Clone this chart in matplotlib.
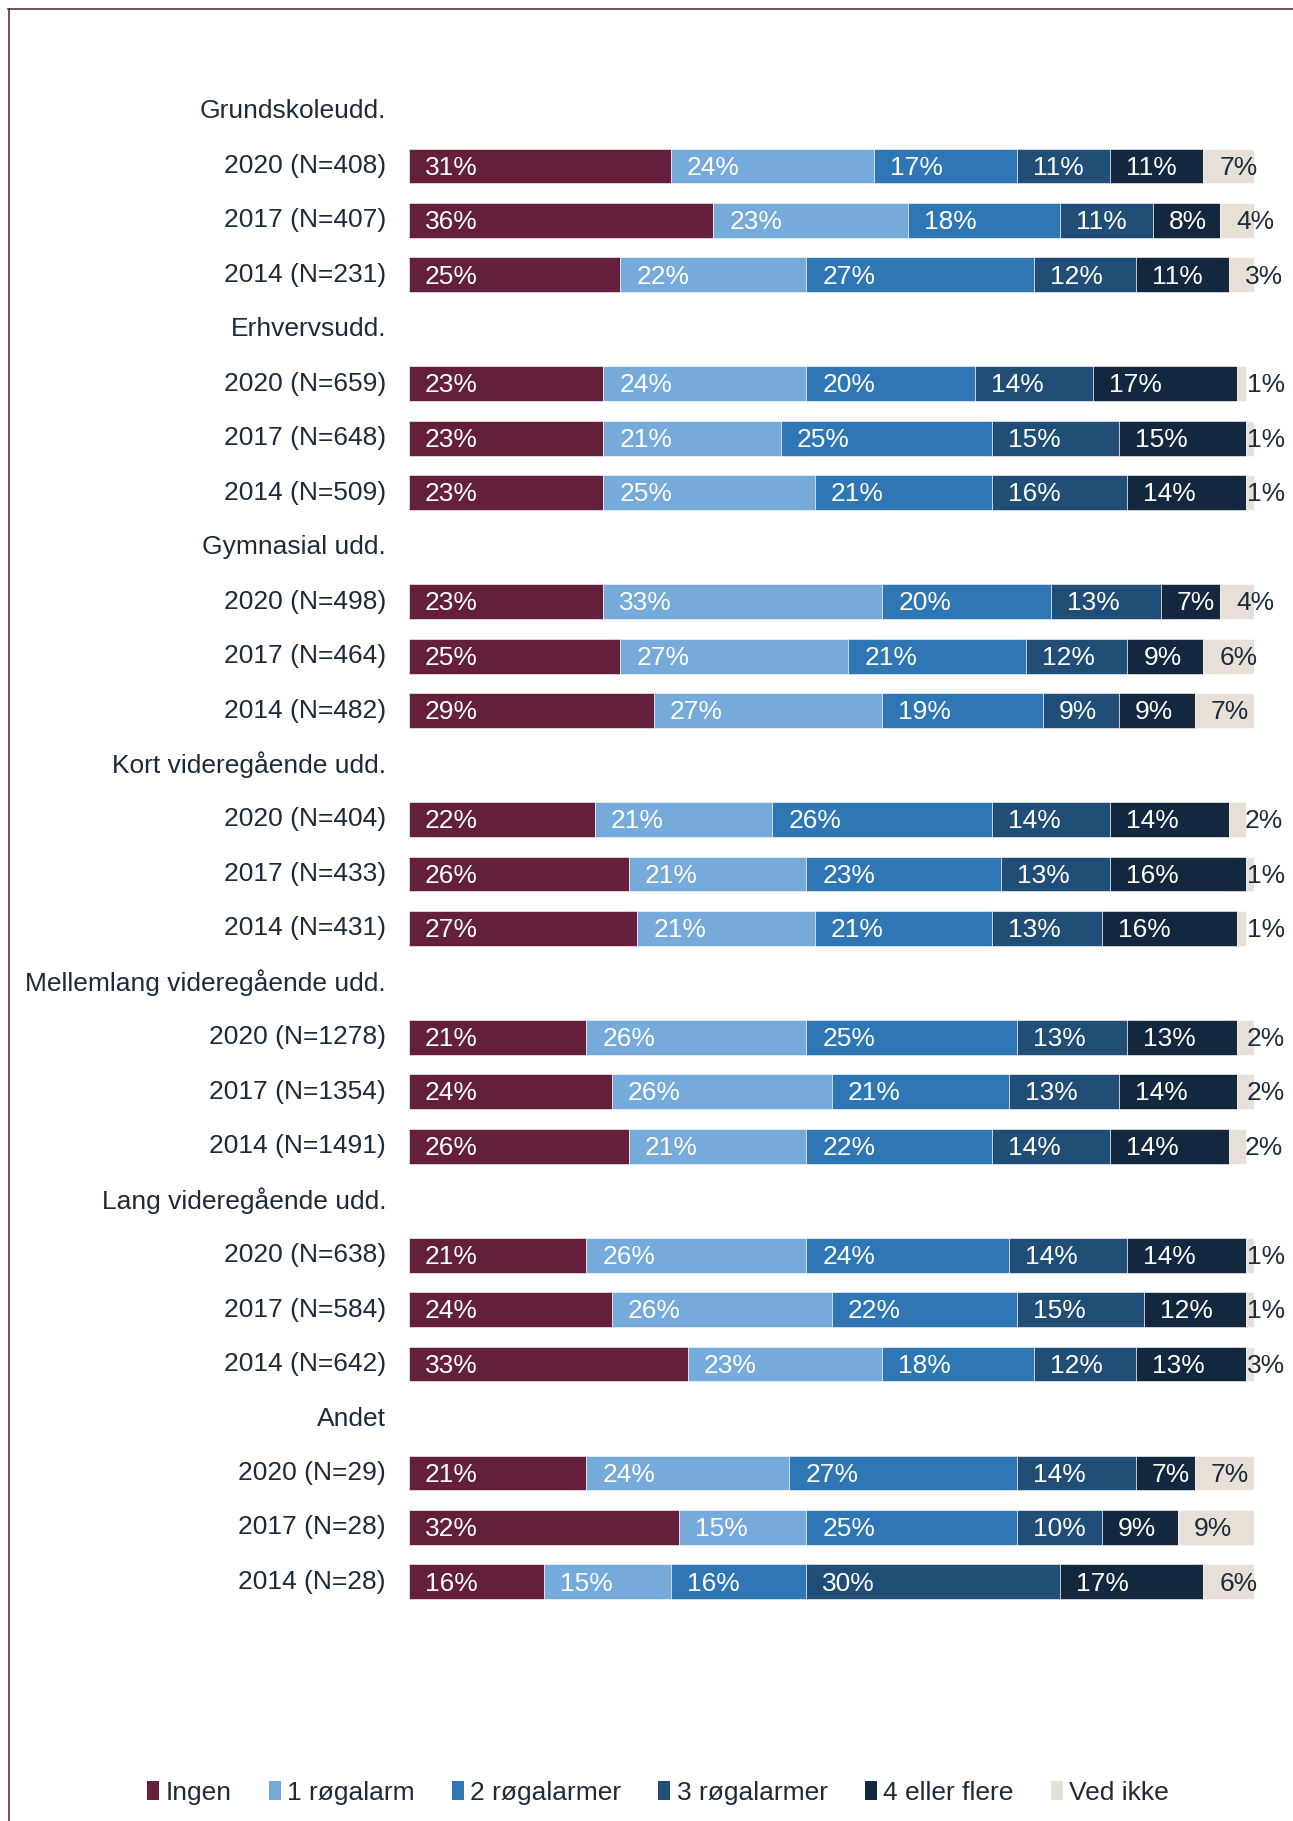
import matplotlib
matplotlib.use("Agg")
import matplotlib.pyplot as plt
from matplotlib.lines import Line2D
from matplotlib.patches import Patch
import matplotlib.transforms as mtransforms

plt.rcParams['font.family'] = ['Liberation Sans', 'DejaVu Sans']

categories = ["Ingen", "1 røgalarm", "2 røgalarmer", "3 røgalarmer", "4 eller flere", "Ved ikke"]
colors = ["#631F3B", "#75AADA", "#2E77B4", "#204E77", "#13283F", "#E7E0D6"]

groups = ["Grundskoleudd.", "Erhvervsudd.", "Gymnasial udd.", "Kort videregående udd.",
          "Mellemlang videregående udd.", "Lang videregående udd.", "Andet"]

row_labels = [
    ["2020 (N=408)", "2017 (N=407)", "2014 (N=231)"],
    ["2020 (N=659)", "2017 (N=648)", "2014 (N=509)"],
    ["2020 (N=498)", "2017 (N=464)", "2014 (N=482)"],
    ["2020 (N=404)", "2017 (N=433)", "2014 (N=431)"],
    ["2020 (N=1278)", "2017 (N=1354)", "2014 (N=1491)"],
    ["2020 (N=638)", "2017 (N=584)", "2014 (N=642)"],
    ["2020 (N=29)", "2017 (N=28)", "2014 (N=28)"],
]

grundskole = [[31, 24, 17, 11, 11, 7], [36, 23, 18, 11, 8, 4], [25, 22, 27, 12, 11, 3]]
erhverv = [[23, 24, 20, 14, 17, 1], [23, 21, 25, 15, 15, 1], [23, 25, 21, 16, 14, 1]]
gymnasial = [[23, 33, 20, 13, 7, 4], [25, 27, 21, 12, 9, 6], [29, 27, 19, 9, 9, 7]]
kort = [[22, 21, 26, 14, 14, 2], [26, 21, 23, 13, 16, 1], [27, 21, 21, 13, 16, 1]]
mellemlang = [[21, 26, 25, 13, 13, 2], [24, 26, 21, 13, 14, 2], [26, 21, 22, 14, 14, 2]]
lang = [[21, 26, 24, 14, 14, 1], [24, 26, 22, 15, 12, 1], [33, 23, 18, 12, 13, 3]]
andet = [[21, 24, 27, 14, 7, 7], [32, 15, 25, 10, 9, 9], [16, 15, 16, 30, 17, 6]]

group_values = [grundskole, erhverv, gymnasial, kort, mellemlang, lang, andet]

W, H = 1293, 1821
fig = plt.figure(figsize=(W / 100, H / 100), dpi=100)

# axes geometry (pixel-based)
x0, x1 = 409, 1254
y_first, y_last = 111.5, 1581.9
nrows = 28
step = (y_last - y_first) / (nrows - 1)
top_px = y_first - step / 2
bot_px = y_last + step / 2
ax = fig.add_axes([x0 / W, 1 - bot_px / H, (x1 - x0) / W, (bot_px - top_px) / H])
ax.set_xlim(0, 100)
ax.set_ylim(nrows - 0.5, -0.5)
ax.axis('off')

text_color = "#1B2B3B"
fs = 19
label_off = mtransforms.offset_copy(ax.transData, fig=fig, x=-23, y=0, units='dots')
val_off = mtransforms.offset_copy(ax.transData, fig=fig, x=16, y=0, units='dots')

last_labels = []
row = 0
for g, gname in enumerate(groups):
    ax.text(0, row, gname, transform=label_off, ha='right', va='center',
            fontsize=fs, color=text_color)
    row += 1
    for r in range(3):
        vals = group_values[g][r]
        ax.text(0, row, row_labels[g][r], transform=label_off, ha='right', va='center',
                fontsize=fs, color=text_color)
        left = 0
        for k, v in enumerate(vals):
            ax.barh(row, v, left=left, height=0.64, color=colors[k],
                    edgecolor='white', linewidth=0.4)
            tc = text_color if k == len(vals) - 1 else 'white'
            t = ax.text(left, row + 0.03, f"{v}%", transform=val_off, ha='left', va='center',
                        fontsize=fs, color=tc, clip_on=False)
            if k == len(vals) - 1:
                last_labels.append(t)
            left += v
        row += 1

# clamp the trailing labels so they stay within the chart's right edge
renderer = fig.canvas.get_renderer()
max_right = 1285
for t in last_labels:
    bb = t.get_window_extent(renderer)
    if bb.x1 > max_right:
        shift = bb.x1 - max_right
        t.set_transform(mtransforms.offset_copy(ax.transData, fig=fig, x=16 - shift, y=0,
                                                units='dots'))

# frame lines (top and left)
border = "#6B2A45"
fig.add_artist(Line2D([8 / W, 1], [1 - 8.5 / H, 1 - 8.5 / H], transform=fig.transFigure,
                      color=border, linewidth=1.2))
fig.add_artist(Line2D([8.5 / W, 8.5 / W], [0, 1 - 8.5 / H], transform=fig.transFigure,
                      color=border, linewidth=1.2))

handles = [Patch(facecolor=c, edgecolor='none', label=l) for c, l in zip(colors, categories)]
fig.legend(handles=handles, loc='center', bbox_to_anchor=(0.509, 1 - 1793 / H),
           ncol=6, frameon=False, fontsize=fs, handlelength=0.45, handleheight=0.75,
           handletextpad=0.25, columnspacing=1.4, labelcolor=text_color)

fig.savefig("out.png", dpi=100)
